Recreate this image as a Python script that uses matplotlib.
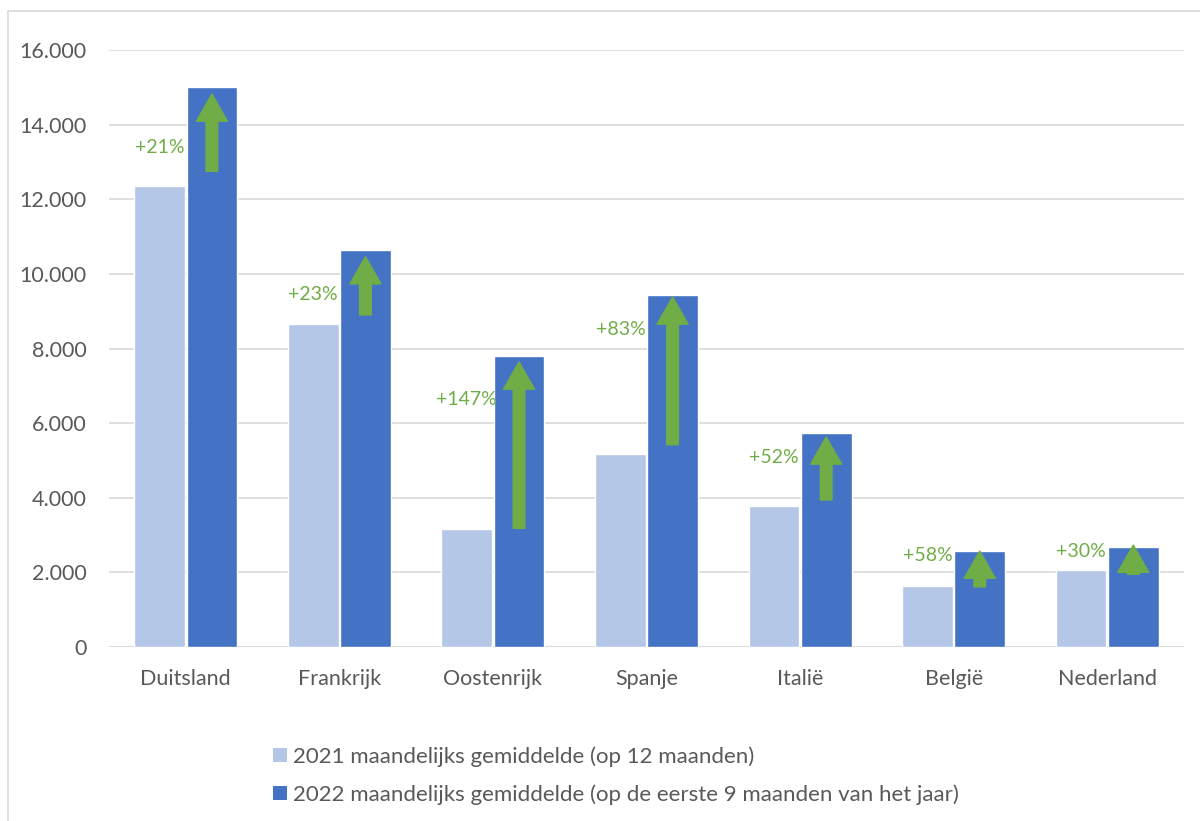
import matplotlib
matplotlib.use("Agg")
import matplotlib.pyplot as plt
from matplotlib.patches import Rectangle, Patch
import numpy as np

categories = ["Duitsland", "Frankrijk", "Oostenrijk", "Spanje", "Italië", "België", "Nederland"]
avg_2021 = [12350, 8650, 3150, 5170, 3780, 1640, 2060]
avg_2022 = [15000, 10650, 7800, 9440, 5740, 2570, 2680]
pct_labels = ["+21%", "+23%", "+147%", "+83%", "+52%", "+58%", "+30%"]
label_y = [13400, 9440, 6620, 8500, 5070, 2440, 2550]
arrow_from = [12750, 8900, 3180, 5420, 3940, 1610, 1950]
arrow_to = [14820, 10460, 7640, 9380, 5630, 2570, 2730]
yticks = [0, 2000, 4000, 6000, 8000, 10000, 12000, 14000, 16000]
ytick_labels = ["0", "2.000", "4.000", "6.000", "8.000", "10.000", "12.000", "14.000", "16.000"]
series_names = ["2021 maandelijks gemiddelde (op 12 maanden)",
                "2022 maandelijks gemiddelde (op de eerste 9 maanden van het jaar)"]

c21 = "#B4C7E7"
c22 = "#4472C4"
green = "#70AD47"
txt = "#595959"
grid = "#D9D9D9"

plt.rcParams['font.family'] = ['Lato', 'DejaVu Sans']

fig = plt.figure(figsize=(12, 8.21), dpi=100)
ax = fig.add_axes([109/1200, 1-647/821, (1184-109)/1200, (647-50)/821])

x = np.arange(len(categories))
w = 0.33
ax.bar(x - w/2 - 0.005, avg_2021, w, color=c21, edgecolor="white", linewidth=1, zorder=2)
ax.bar(x + w/2 + 0.005, avg_2022, w, color=c22, edgecolor="white", linewidth=1, zorder=2)

for i in range(len(categories)):
    ax.annotate("", xy=(x[i] + w/2 + 0.005, arrow_to[i]), xytext=(x[i] + w/2 + 0.005, arrow_from[i]),
                arrowprops=dict(arrowstyle="simple,head_length=1.4,head_width=1.6,tail_width=0.6",
                                color=green, mutation_scale=14, shrinkA=0, shrinkB=0), zorder=3)
    ax.text(x[i] - 0.17, label_y[i], pct_labels[i], color=green, fontsize=14,
            ha="center", va="center", zorder=4)

ax.set_xlim(-0.5, len(categories) - 0.5)
ax.set_ylim(0, 16000)
ax.set_yticks(yticks)
ax.set_yticklabels(ytick_labels)
ax.set_xticks(x)
ax.set_xticklabels(categories)
ax.tick_params(axis="both", length=0, colors=txt, labelsize=15.5)
ax.tick_params(axis="y", pad=16)
ax.tick_params(axis="x", pad=16)
for lab in ax.get_yticklabels():
    lab.set_horizontalalignment("right")
ax.yaxis.grid(True, color=grid, linewidth=1.2, zorder=0)
ax.set_axisbelow(True)
for s in ax.spines.values():
    s.set_visible(False)
ax.axhline(0, color=grid, linewidth=1.5, zorder=1)

handles = [Patch(facecolor=c21, edgecolor="none"), Patch(facecolor=c22, edgecolor="none")]
fig.legend(handles, series_names, loc="upper left", bbox_to_anchor=(253/1200, 1-726/821),
           frameon=False, fontsize=16, labelcolor=txt, handlelength=0.62, handleheight=0.62,
           handletextpad=0.3, labelspacing=0.8)

fig.add_artist(Rectangle((8/1200, -0.1), 1.5, (821-11)/821 + 0.1, transform=fig.transFigure,
                         fill=False, edgecolor=grid, linewidth=1.2))

fig.savefig("out.png", dpi=100)
